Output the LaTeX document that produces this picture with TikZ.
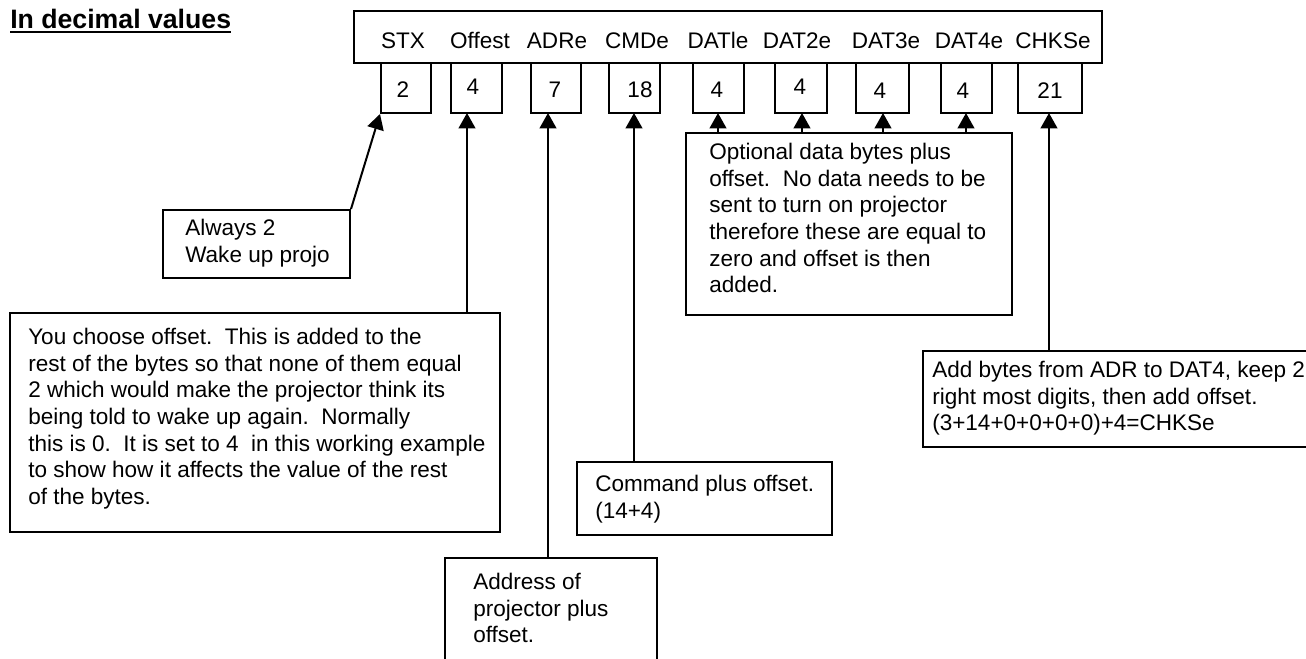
\documentclass[tikz,border=0pt]{standalone}
\usepackage{fontspec}
\setmainfont{Liberation Sans}
\usetikzlibrary{arrows.meta,fit}
\begin{document}
\begin{tikzpicture}[x=0.75pt,y=-0.75pt,
  box/.style={draw, line width=1.5pt, rectangle, inner sep=0pt},
  txt/.style={font=\fontsize{16.9pt}{20pt}\selectfont, inner sep=0pt, align=left, anchor=north west},
  lbl/.style={font=\fontsize{16.9pt}{20pt}\selectfont, inner sep=0pt, anchor=base},
  arr/.style={line width=1.5pt, -{Triangle[width=12.5pt,length=11.5pt]}},
  lin/.style={line width=1.5pt}]
\useasboundingbox (0,0) rectangle (1306,658);
\clip (0,0) rectangle (1306,658);
\frenchspacing
% title
\node[font=\fontsize{20pt}{24pt}\selectfont\bfseries, inner sep=0pt, anchor=base west] (title) at (10,28) {In decimal values};
\draw[line width=1.6pt] ([yshift=-3.2pt]title.base west) -- ([yshift=-3.2pt]title.base east);
% header box
\node[box, fit={(354,11) (1102,63)}] (hdr) {};
\node[lbl] (l1) at (403,48) {STX};
\node[lbl] (l2) at (480,48) {Offest};
\node[lbl] (l3) at (557,48) {ADRe};
\node[lbl] (l4) at (637,48) {CMDe};
\node[lbl] (l5) at (718,48) {DATle};
\node[lbl] (l6) at (797,48) {DAT2e};
\node[lbl] (l7) at (886,48) {DAT3e};
\node[lbl] (l8) at (969,48) {DAT4e};
\node[lbl] (l9) at (1053,48) {CHKSe};
% value boxes
\node[box, fit={(381,63) (431,113)}] (b1) {};
\node[box, fit={(451,63) (502,113)}] (b2) {};
\node[box, fit={(531,63) (581,113)}] (b3) {};
\node[box, fit={(609,63) (660,113)}] (b4) {};
\node[box, fit={(693,63) (744,113)}] (b5) {};
\node[box, fit={(775,63) (827,113)}] (b6) {};
\node[box, fit={(856,63) (909,113)}] (b7) {};
\node[box, fit={(941,63) (992,113)}] (b8) {};
\node[box, fit={(1018,63) (1082,113)}] (b9) {};
\node[lbl] (n1) at (403,97) {2};
\node[lbl] (n2) at (473,94) {4};
\node[lbl] (n3) at (555,97) {7};
\node[lbl] (n4) at (640,97) {18};
\node[lbl] (n5) at (717,97) {4};
\node[lbl] (n6) at (800,94) {4};
\node[lbl] (n7) at (880,98) {4};
\node[lbl] (n8) at (963,98) {4};
\node[lbl] (n9) at (1050,98) {21};
% tip points
\coordinate (t2) at (467,113);
\coordinate (t3) at (548,113);
\coordinate (t4) at (634,113);
\coordinate (t5) at (718,113);
\coordinate (t6) at (802,113);
\coordinate (t7) at (883,113);
\coordinate (t8) at (966,113);
\coordinate (t9) at (1049,113);
% annotation boxes
\node[box, fit={(163,210) (350,278)}] (always) {};
\node[txt] (alwaysT) at (185,219) {Always 2\\Wake up projo};
\node[box, fit={(10,313) (500,532)}] (big) {};
\node[txt] (bigT) at (28,328) {You choose offset.\ \ This is added to the\\
rest of the bytes so that none of them equal\\
2 which would make the projector think its\\
being told to wake up again.\ \ Normally\\
this is 0.\ \ It is set to 4\ \ in this working example\\
to show how it affects the value of the rest\\
of the bytes.};
\node[box, fit={(686,133) (1012,315)}] (dat) {};
\node[txt] (datT) at (709,143) {Optional data bytes plus\\
offset.\ \ No data needs to be\\
sent to turn on projector\\
therefore these are equal to\\
zero and offset is then\\
added.};
\node[box, fit={(577,462) (832,535)}] (cmd) {};
\node[txt] (cmdT) at (595,475) {Command plus offset.\\(14+4)};
\node[box, fit={(445,558) (657,680)}] (adr) {};
\node[txt] (adrT) at (473,573) {Address of\\projector plus\\offset.};
\node[box, fit={(923,351) (1330,447)}] (chk) {};
\node[txt] (chkT) at (932,361) {Add bytes from ADR to DAT4, keep 2\\
right most digits, then add offset.\\
(3+14+0+0+0+0)+4=CHKSe};
% connectors
\draw[arr] (always.north east) -- (b1.south west);
\draw[arr] (big.north -| t2) -- (t2);
\draw[arr] (adr.north -| t3) -- (t3);
\draw[arr] (cmd.north -| t4) -- (t4);
\draw[arr] (dat.north -| t5) -- (t5);
\draw[arr] (dat.north -| t6) -- (t6);
\draw[arr] (dat.north -| t7) -- (t7);
\draw[arr] (dat.north -| t8) -- (t8);
\draw[arr] (chk.north -| t9) -- (t9);
\end{tikzpicture}
\end{document}
